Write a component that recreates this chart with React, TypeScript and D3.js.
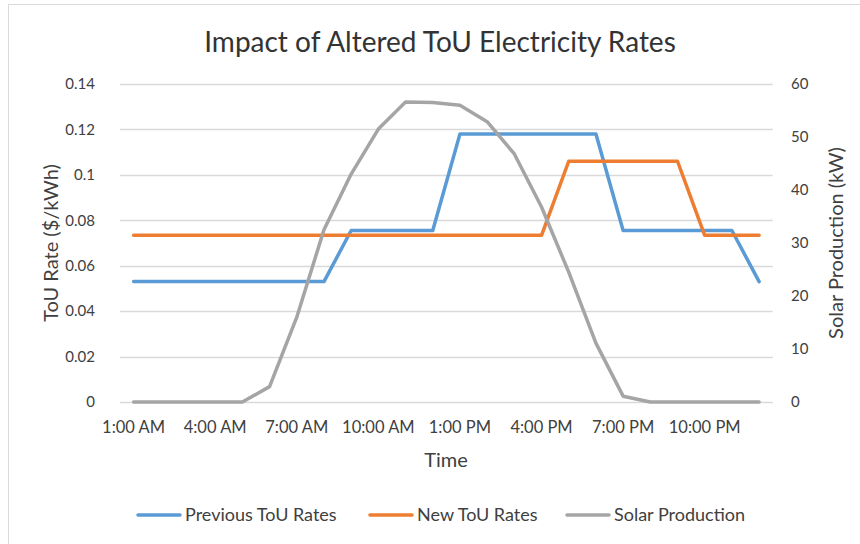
import React from "react";
import * as d3 from "d3";

const hours: string[] = [
  "1:00 AM", "2:00 AM", "3:00 AM", "4:00 AM", "5:00 AM", "6:00 AM", "7:00 AM", "8:00 AM",
  "9:00 AM", "10:00 AM", "11:00 AM", "12:00 PM", "1:00 PM", "2:00 PM", "3:00 PM", "4:00 PM",
  "5:00 PM", "6:00 PM", "7:00 PM", "8:00 PM", "9:00 PM", "10:00 PM", "11:00 PM", "12:00 AM",
];

const previousRates: number[] = [
  0.053, 0.053, 0.053, 0.053, 0.053, 0.053, 0.053, 0.053,
  0.0755, 0.0755, 0.0755, 0.0755, 0.118, 0.118, 0.118, 0.118,
  0.118, 0.118, 0.0755, 0.0755, 0.0755, 0.0755, 0.0755, 0.053,
];

const newRates: number[] = [
  0.0734, 0.0734, 0.0734, 0.0734, 0.0734, 0.0734, 0.0734, 0.0734,
  0.0734, 0.0734, 0.0734, 0.0734, 0.0734, 0.0734, 0.0734, 0.0734,
  0.106, 0.106, 0.106, 0.106, 0.106, 0.0734, 0.0734, 0.0734,
];

const solarProduction: number[] = [
  0, 0, 0, 0, 0, 2.9, 16, 32.5,
  43, 51.5, 56.6, 56.5, 56, 52.9, 46.8, 36.8,
  24.5, 11.1, 1.1, 0, 0, 0, 0, 0,
];

const leftTicks: number[] = [0, 0.02, 0.04, 0.06, 0.08, 0.1, 0.12, 0.14];
const rightTicks: number[] = [0, 10, 20, 30, 40, 50, 60];
const xTickLabels: string[] = ["1:00 AM", "4:00 AM", "7:00 AM", "10:00 AM", "1:00 PM", "4:00 PM", "7:00 PM", "10:00 PM"];

const title = "Impact of Altered ToU Electricity Rates";
const seriesNames = ["Previous ToU Rates", "New ToU Rates", "Solar Production"];
const colors = ["#5B9BD5", "#ED7D31", "#A5A5A5"];

export default function App() {
  const W = 860, H = 544;
  const left = 120, right = 772.7, top = 84, bottom = 402;
  const font = "Lato, 'Open Sans', sans-serif";
  const textColor = "#404040";

  const x = d3.scaleBand<string>().domain(hours).range([left, right]);
  const xc = (d: string) => (x(d) as number) + x.bandwidth() / 2;
  const yL = d3.scaleLinear().domain([0, 0.14]).range([bottom, top]);
  const yR = d3.scaleLinear().domain([0, 60]).range([bottom, top]);

  const lineL = d3.line<number>().x((_, i) => xc(hours[i])).y((v) => yL(v));
  const lineR = d3.line<number>().x((_, i) => xc(hours[i])).y((v) => yR(v));

  const paths = [lineL(previousRates), lineL(newRates), lineR(solarProduction)];

  const legendItems = [
    { x: 138, name: seriesNames[0], color: colors[0] },
    { x: 370, name: seriesNames[1], color: colors[1] },
    { x: 567, name: seriesNames[2], color: colors[2] },
  ];

  return (
    <svg width={W} height={H} style={{ position: "absolute", left: 0, top: 0, background: "#fff" }}>
      <rect x={8.5} y={4.5} width={W + 10} height={H + 10} fill="#fff" stroke="#D9D9D9" strokeWidth={1} />
      <text x={440} y={52} textAnchor="middle" fontFamily={font} fontSize={28} fill="#333">{title}</text>

      {leftTicks.map((t) => (
        <line key={"g" + t} x1={left} x2={right} y1={Math.round(yL(t)) + 0.5} y2={Math.round(yL(t)) + 0.5} stroke="#D9D9D9" strokeWidth={1.3} />
      ))}

      {leftTicks.map((t) => (
        <text key={"l" + t} x={95} y={yL(t)} dy="0.35em" textAnchor="end" fontFamily={font} fontSize={15} fill={textColor}>{d3.format("")(+t.toFixed(2))}</text>
      ))}
      {rightTicks.map((t) => (
        <text key={"r" + t} x={791} y={yR(t)} dy="0.35em" textAnchor="start" fontFamily={font} fontSize={15} fill={textColor}>{t}</text>
      ))}
      {xTickLabels.map((l) => (
        <text key={"x" + l} x={xc(l)} y={427} dy="0.35em" textAnchor="middle" fontFamily={font} fontSize={16.5} fill={textColor}>{l}</text>
      ))}

      <text x={446} y={460} dy="0.35em" textAnchor="middle" fontFamily={font} fontSize={20} fill={textColor}>Time</text>
      <text transform={`translate(51,243) rotate(-90)`} dy="0.35em" textAnchor="middle" fontFamily={font} fontSize={20} fill={textColor}>ToU Rate ($/kWh)</text>
      <text transform={`translate(836,243) rotate(-90)`} dy="0.35em" textAnchor="middle" fontFamily={font} fontSize={20} fill={textColor}>Solar Production (kW)</text>

      {paths.map((p, i) => (
        <path key={"p" + i} d={p || ""} fill="none" stroke={colors[i]} strokeWidth={3.5} strokeLinejoin="round" strokeLinecap="round" />
      ))}

      {legendItems.map((it) => (
        <g key={it.name}>
          <line x1={it.x} x2={it.x + 42} y1={515} y2={515} stroke={it.color} strokeWidth={3.5} strokeLinecap="round" />
          <text x={it.x + 47} y={515} dy="0.35em" fontFamily={font} fontSize={18} fill={textColor}>{it.name}</text>
        </g>
      ))}
    </svg>
  );
}
